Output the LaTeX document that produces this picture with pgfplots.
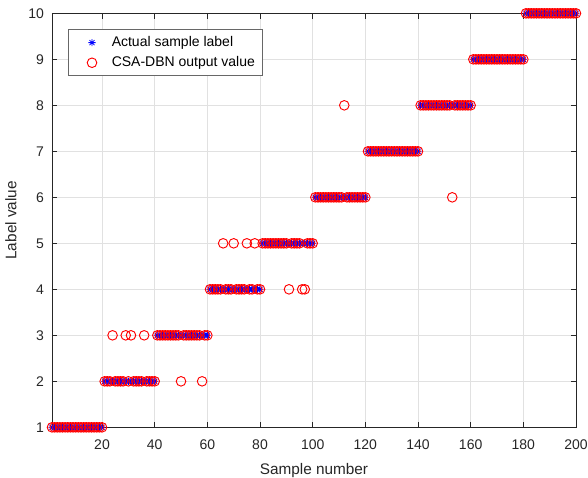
\documentclass[border=0pt]{standalone}
\usepackage{pgfplots}
\usepackage{pgfplotstable}
\pgfplotsset{compat=1.18}
\usepackage{fontspec}
\setmainfont{Liberation Sans}
\definecolor{axgray}{RGB}{38,38,38}
\definecolor{gridgray}{RGB}{225,225,225}
\pgfdeclareplotmark{mstar}{%
  \pgfpathmoveto{\pgfqpoint{-\pgfplotmarksize}{0pt}}\pgfpathlineto{\pgfqpoint{\pgfplotmarksize}{0pt}}%
  \pgfpathmoveto{\pgfqpoint{0pt}{-\pgfplotmarksize}}\pgfpathlineto{\pgfqpoint{0pt}{\pgfplotmarksize}}%
  \pgfpathmoveto{\pgfqpoint{-0.707\pgfplotmarksize}{-0.707\pgfplotmarksize}}\pgfpathlineto{\pgfqpoint{0.707\pgfplotmarksize}{0.707\pgfplotmarksize}}%
  \pgfpathmoveto{\pgfqpoint{-0.707\pgfplotmarksize}{0.707\pgfplotmarksize}}\pgfpathlineto{\pgfqpoint{0.707\pgfplotmarksize}{-0.707\pgfplotmarksize}}%
  \pgfusepathqstroke}
\pgfplotstableread[row sep=\\]{
x a p\\
1 1 1\\ 2 1 1\\ 3 1 1\\ 4 1 1\\ 5 1 1\\ 6 1 1\\ 7 1 1\\ 8 1 1\\ 9 1 1\\ 10 1 1\\
11 1 1\\ 12 1 1\\ 13 1 1\\ 14 1 1\\ 15 1 1\\ 16 1 1\\ 17 1 1\\ 18 1 1\\ 19 1 1\\ 20 1 1\\
21 2 2\\ 22 2 2\\ 23 2 2\\ 24 2 3\\ 25 2 2\\ 26 2 2\\ 27 2 2\\ 28 2 2\\ 29 2 3\\ 30 2 2\\
31 2 3\\ 32 2 2\\ 33 2 2\\ 34 2 2\\ 35 2 2\\ 36 2 3\\ 37 2 2\\ 38 2 2\\ 39 2 2\\ 40 2 2\\
41 3 3\\ 42 3 3\\ 43 3 3\\ 44 3 3\\ 45 3 3\\ 46 3 3\\ 47 3 3\\ 48 3 3\\ 49 3 3\\ 50 3 2\\
51 3 3\\ 52 3 3\\ 53 3 3\\ 54 3 3\\ 55 3 3\\ 56 3 3\\ 57 3 3\\ 58 3 2\\ 59 3 3\\ 60 3 3\\
61 4 4\\ 62 4 4\\ 63 4 4\\ 64 4 4\\ 65 4 4\\ 66 4 5\\ 67 4 4\\ 68 4 4\\ 69 4 4\\ 70 4 5\\
71 4 4\\ 72 4 4\\ 73 4 4\\ 74 4 4\\ 75 4 5\\ 76 4 4\\ 77 4 4\\ 78 4 5\\ 79 4 4\\ 80 4 4\\
81 5 5\\ 82 5 5\\ 83 5 5\\ 84 5 5\\ 85 5 5\\ 86 5 5\\ 87 5 5\\ 88 5 5\\ 89 5 5\\ 90 5 5\\
91 5 4\\ 92 5 5\\ 93 5 5\\ 94 5 5\\ 95 5 5\\ 96 5 4\\ 97 5 4\\ 98 5 5\\ 99 5 5\\ 100 5 5\\
101 6 6\\ 102 6 6\\ 103 6 6\\ 104 6 6\\ 105 6 6\\ 106 6 6\\ 107 6 6\\ 108 6 6\\ 109 6 6\\ 110 6 6\\
111 6 6\\ 112 6 8\\ 113 6 6\\ 114 6 6\\ 115 6 6\\ 116 6 6\\ 117 6 6\\ 118 6 6\\ 119 6 6\\ 120 6 6\\
121 7 7\\ 122 7 7\\ 123 7 7\\ 124 7 7\\ 125 7 7\\ 126 7 7\\ 127 7 7\\ 128 7 7\\ 129 7 7\\ 130 7 7\\
131 7 7\\ 132 7 7\\ 133 7 7\\ 134 7 7\\ 135 7 7\\ 136 7 7\\ 137 7 7\\ 138 7 7\\ 139 7 7\\ 140 7 7\\
141 8 8\\ 142 8 8\\ 143 8 8\\ 144 8 8\\ 145 8 8\\ 146 8 8\\ 147 8 8\\ 148 8 8\\ 149 8 8\\ 150 8 8\\
151 8 8\\ 152 8 8\\ 153 8 6\\ 154 8 8\\ 155 8 8\\ 156 8 8\\ 157 8 8\\ 158 8 8\\ 159 8 8\\ 160 8 8\\
161 9 9\\ 162 9 9\\ 163 9 9\\ 164 9 9\\ 165 9 9\\ 166 9 9\\ 167 9 9\\ 168 9 9\\ 169 9 9\\ 170 9 9\\
171 9 9\\ 172 9 9\\ 173 9 9\\ 174 9 9\\ 175 9 9\\ 176 9 9\\ 177 9 9\\ 178 9 9\\ 179 9 9\\ 180 9 9\\
181 10 10\\ 182 10 10\\ 183 10 10\\ 184 10 10\\ 185 10 10\\ 186 10 10\\ 187 10 10\\ 188 10 10\\ 189 10 10\\ 190 10 10\\
191 10 10\\ 192 10 10\\ 193 10 10\\ 194 10 10\\ 195 10 10\\ 196 10 10\\ 197 10 10\\ 198 10 10\\ 199 10 10\\ 200 10 10\\
}\datatable
\begin{document}
\begin{tikzpicture}
\begin{axis}[
  scale only axis,
  width=393pt, height=310.5pt,
  xmin=1, xmax=200, ymin=1, ymax=10,
  xtick={20,40,...,200}, ytick={1,2,...,10},
  tick align=inside,
  major tick length=4pt,
  axis line style={axgray, line width=0.5pt},
  tick style={axgray, line width=0.5pt},
  grid=major,
  major grid style={gridgray, line width=0.5pt},
  /pgf/number format/assume math mode=true,
  tick label style={font=\fontsize{10.5pt}{12pt}\selectfont, text=axgray},
  xticklabel style={yshift=-5.5pt},
  yticklabel style={xshift=-2.5pt},
  label style={font=\fontsize{11.5pt}{13pt}\selectfont, text=axgray},
  xlabel={Sample number},
  ylabel={Label value},
  xlabel style={yshift=-4pt},
  ylabel style={yshift=2pt},
  legend cell align=left,
  legend image code/.code={%
    \path[draw=none, fill=none] (0cm,0cm) -- (0.95cm,0cm);
    \draw[#1] plot[only marks] coordinates {(0.5cm,0cm)};},
  legend style={at={(0.0305,0.961)}, anchor=north west,
    draw=axgray!70, line width=0.6pt,
    font=\fontsize{10.5pt}{12pt}\selectfont,
    inner xsep=3.5pt, inner ysep=3pt,
    row sep=2pt},
]
\addplot[only marks, mark=mstar, mark size=2.7pt, line width=0.6pt, color=blue] table[x=x, y=a] {\datatable};
\addlegendentry{Actual sample label}
\addplot[only marks, mark=o, mark size=3.6pt, line width=0.7pt, color=red] table[x=x, y=p] {\datatable};
\addlegendentry{CSA-DBN output value}
\end{axis}
\pgfresetboundingbox
\useasboundingbox ([shift={(-39pt,-37.5pt)}]current axis.south west) rectangle ([shift={(9pt,10pt)}]current axis.north east);
\end{tikzpicture}
\end{document}
